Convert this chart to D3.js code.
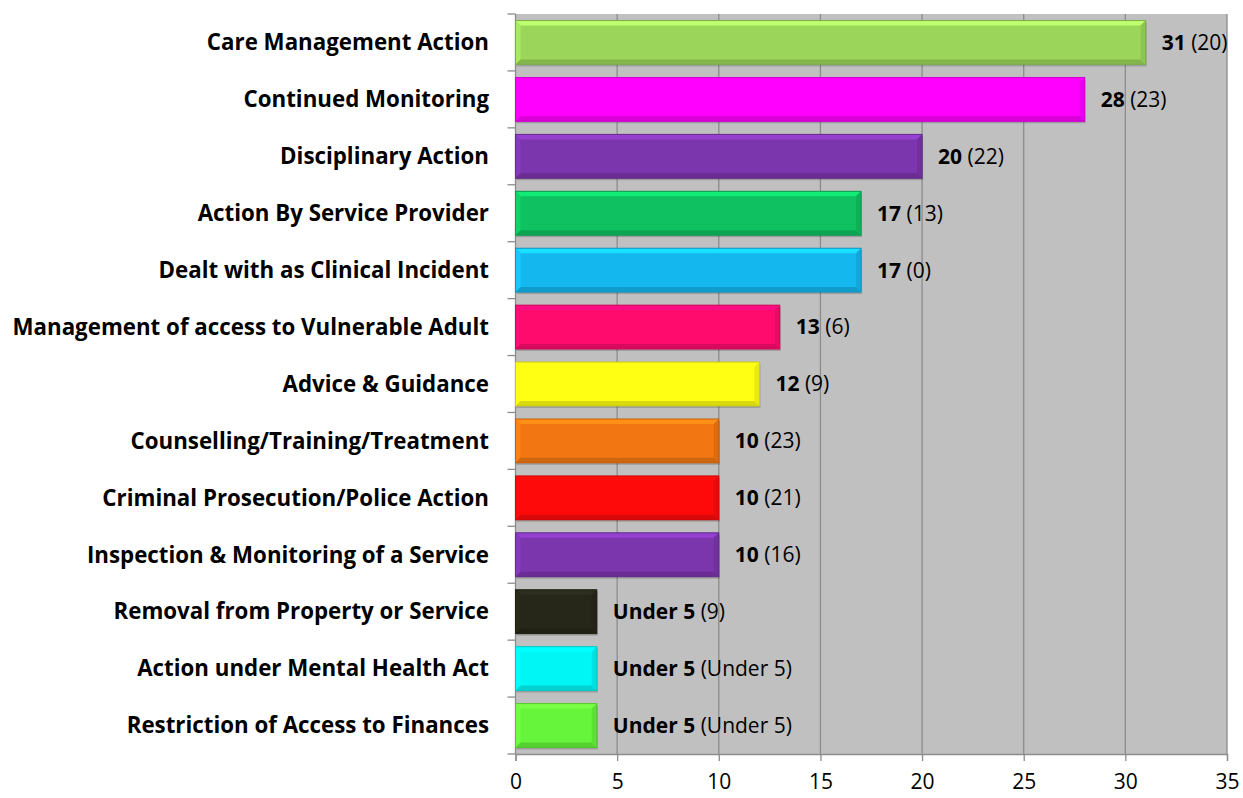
<!DOCTYPE html>
<html>
<head>
<meta charset="utf-8">
<script src="https://cdn.jsdelivr.net/npm/d3@7"></script>
<style>
  body { margin: 0; background: #fff; }
  svg { display: block; font-family: "Open Sans", "Lato", sans-serif; }
</style>
</head>
<body>
<svg id="chart"></svg>
<script>
const categories = [
  'Care Management Action',
  'Continued Monitoring',
  'Disciplinary Action',
  'Action By Service Provider',
  'Dealt with as Clinical Incident',
  'Management of access to Vulnerable Adult',
  'Advice & Guidance',
  'Counselling/Training/Treatment',
  'Criminal Prosecution/Police Action',
  'Inspection & Monitoring of a Service',
  'Removal from Property or Service',
  'Action under Mental Health Act',
  'Restriction of Access to Finances'
];
// current year (under 5 is drawn as 4)
const values = [31, 28, 20, 17, 17, 13, 12, 10, 10, 10, 4, 4, 4];
const valueLabels = ['31', '28', '20', '17', '17', '13', '12', '10', '10', '10', 'Under 5', 'Under 5', 'Under 5'];
const previousLabels = ['20', '23', '22', '13', '0', '6', '9', '23', '21', '16', '9', 'Under 5', 'Under 5'];
const colors = ['#9bd65a', '#ff00ff', '#7b35ad', '#0fc160', '#14b8ee', '#ff0b6d', '#ffff14', '#f27612',
  '#ff0a0a', '#7b35ad', '#262619', '#00f5f5', '#66f53a'];
const xTicks = [0, 5, 10, 15, 20, 25, 30, 35];

const width = 1243, height = 798;
const margin = { top: 14, right: 16, bottom: 44, left: 515.5 };

const svg = d3.select('#chart').attr('width', width).attr('height', height);

const x = d3.scaleLinear().domain([0, 35]).range([margin.left, width - margin.right]);
const y = d3.scaleBand().domain(categories).range([margin.top, height - margin.bottom]).paddingInner(0.23).paddingOuter(0.115);

// plot background
svg.append('rect')
  .attr('x', x(0)).attr('y', margin.top)
  .attr('width', x(35) - x(0)).attr('height', height - margin.bottom - margin.top)
  .attr('fill', '#c0c0c0');

// grid
svg.append('g').selectAll('line')
  .data(xTicks.slice(1))
  .join('line')
  .attr('x1', d => x(d)).attr('x2', d => x(d))
  .attr('y1', margin.top).attr('y2', height - margin.bottom)
  .attr('stroke', '#8c8c8c').attr('stroke-width', 1.3);

// x axis
const xAxis = svg.append('g')
  .attr('transform', `translate(0,${height - margin.bottom})`)
  .call(d3.axisBottom(x).tickValues(xTicks).tickSize(7));
xAxis.select('.domain').attr('stroke', '#8c8c8c').attr('stroke-width', 1.3);
xAxis.selectAll('.tick line').attr('stroke', '#8c8c8c').attr('stroke-width', 1.3);
xAxis.selectAll('text')
  .attr('y', 28).attr('dy', '0.35em')
  .attr('font-size', 21).attr('fill', '#000').attr('font-family', '"Open Sans", sans-serif');

// y axis with ticks between categories
const yAxisG = svg.append('g');
const step = y.step();
const bounds = d3.range(categories.length + 1).map(i => margin.top + i * step);
yAxisG.append('line')
  .attr('x1', x(0)).attr('x2', x(0))
  .attr('y1', margin.top).attr('y2', height - margin.bottom)
  .attr('stroke', '#8c8c8c').attr('stroke-width', 1.3);
yAxisG.selectAll('.yt').data(bounds).join('line')
  .attr('x1', x(0) - 8).attr('x2', x(0))
  .attr('y1', d => d).attr('y2', d => d)
  .attr('stroke', '#8c8c8c').attr('stroke-width', 1.3);
yAxisG.selectAll('text').data(categories).join('text')
  .attr('x', 489)
  .attr('y', d => y(d) + y.bandwidth() / 2)
  .attr('dy', '0.35em')
  .attr('text-anchor', 'end')
  .attr('font-size', 22.3)
  .attr('font-weight', 'bold')
  .text(d => d);

// bars with a bevel look
const bev = 5;
const bars = svg.append('g').selectAll('g').data(categories).join('g')
  .attr('transform', d => `translate(${x(0)},${y(d)})`);

bars.each(function(d, i) {
  const g = d3.select(this);
  const w = x(values[i]) - x(0), h = y.bandwidth();
  const c = d3.color(colors[i]);
  g.append('rect').attr('x', 1).attr('y', 2).attr('width', w).attr('height', h)
    .attr('fill', 'rgba(0,0,0,0.18)');
  g.append('rect').attr('width', w).attr('height', h).attr('fill', c);
  const poly = pts => g.append('polygon').attr('points', pts.map(p => p.join(',')).join(' '));
  poly([[0, 0], [w, 0], [w - bev, bev], [bev, bev]]).attr('fill', c.brighter(0.55));
  poly([[0, 0], [bev, bev], [bev, h - bev], [0, h]]).attr('fill', c.brighter(0.25));
  poly([[0, h], [bev, h - bev], [w - bev, h - bev], [w, h]]).attr('fill', c.darker(0.45));
  poly([[w, 0], [w, h], [w - bev, h - bev], [w - bev, bev]]).attr('fill', c.darker(0.25));
  g.append('rect').attr('width', w).attr('height', h).attr('fill', 'none')
    .attr('stroke', c.darker(0.6)).attr('stroke-width', 1);
});

// value labels
const labels = svg.append('g').selectAll('text').data(categories).join('text')
  .attr('x', (d, i) => x(values[i]) + 16)
  .attr('y', d => y(d) + y.bandwidth() / 2)
  .attr('dy', '0.35em')
  .attr('font-size', 21);
labels.append('tspan').attr('font-weight', 'bold').text((d, i) => valueLabels[i]);
labels.append('tspan').text((d, i) => ' (' + previousLabels[i] + ')');
</script>
</body>
</html>
